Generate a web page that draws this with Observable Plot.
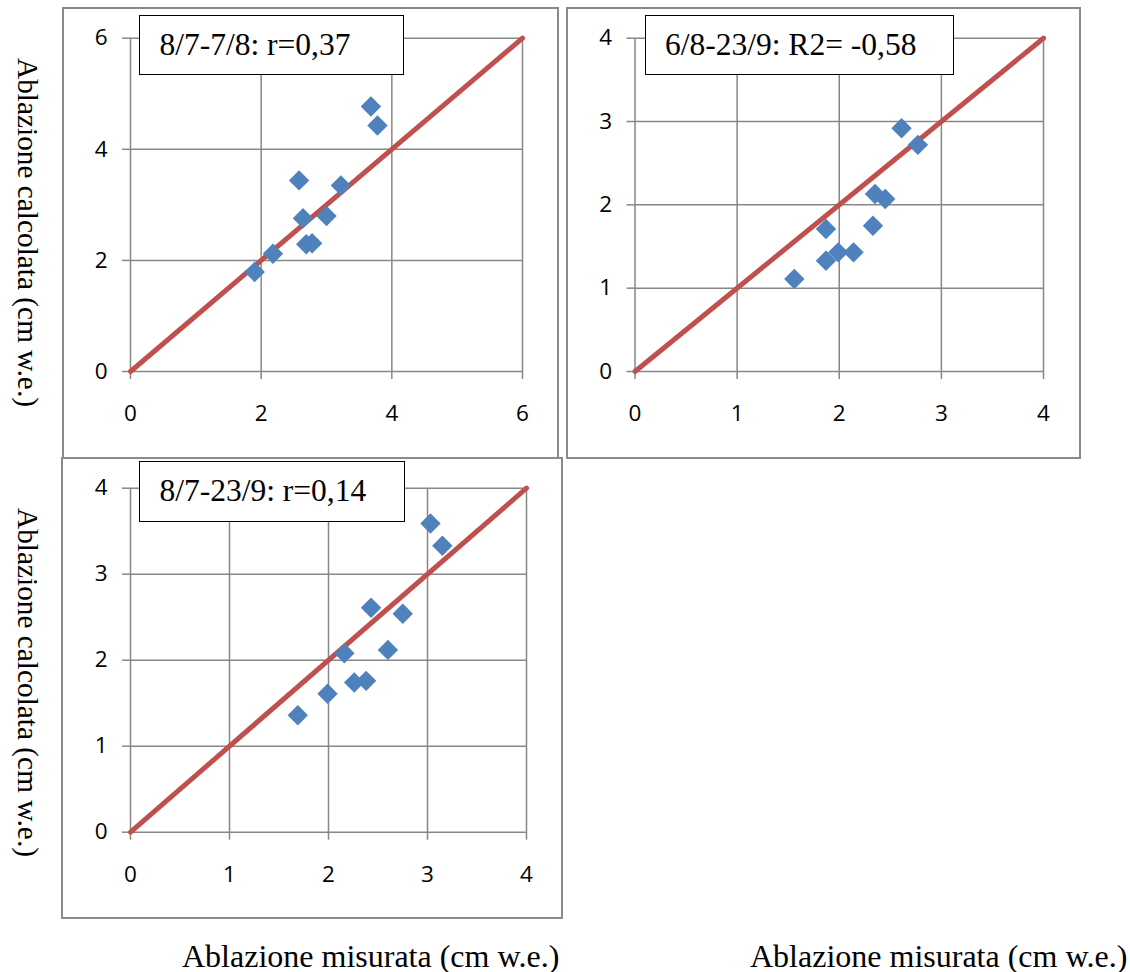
<!DOCTYPE html>
<html>
<head>
<meta charset="utf-8">
<script src="https://cdn.jsdelivr.net/npm/d3@7"></script>
<script src="https://cdn.jsdelivr.net/npm/@observablehq/plot@0.6"></script>
<style>
  body { margin: 0; background: #fff; }
  #chart { position: relative; width: 1130px; height: 972px; background: #fff; overflow: hidden; }
  .frame { position: absolute; box-sizing: border-box; border: 2px solid #8a8a8a; }
  .plot { position: absolute; }
  .note {
    position: absolute; box-sizing: border-box; border: 1.5px solid #000; background: #fff;
    font-family: "Liberation Serif", "Times New Roman", serif; font-size: 31.5px;
    white-space: nowrap; color: #000;
  }
  .titles { position: absolute; left: 0; top: 0; pointer-events: none; }
  .titles text { font-family: "Liberation Serif", "Times New Roman", serif; fill: #000; }
</style>
</head>
<body>
<div id="chart"></div>
<script>
// Ablazione misurata vs calcolata (cm w.e.) per tre periodi

const periodi = ["8/7-7/8: r=0,37", "6/8-23/9: R2= -0,58", "8/7-23/9: r=0,14"];

// 8/7 - 7/8
const misurata1  = [1.90, 2.18, 2.58, 2.64, 2.69, 2.78, 3.00, 3.22, 3.68, 3.78];
const calcolata1 = [1.79, 2.12, 3.44, 2.76, 2.29, 2.31, 2.80, 3.35, 4.77, 4.43];

// 6/8 - 23/9
const misurata2  = [1.56, 1.87, 1.87, 1.99, 2.14, 2.33, 2.35, 2.45, 2.61, 2.77];
const calcolata2 = [1.11, 1.71, 1.33, 1.43, 1.43, 1.75, 2.13, 2.07, 2.92, 2.72];

// 8/7 - 23/9
const misurata3  = [1.69, 1.99, 2.16, 2.26, 2.38, 2.43, 2.60, 2.75, 3.03, 3.15];
const calcolata3 = [1.36, 1.61, 2.08, 1.74, 1.76, 2.61, 2.12, 2.54, 3.59, 3.33];

// axis ticks and the 1:1 line end points
const ticks1 = [0, 2, 4, 6];
const ticks2 = [0, 1, 2, 3, 4];
const ticks3 = [0, 1, 2, 3, 4];
const bisettrice1 = [0, 6];
const bisettrice2 = [0, 4];
const bisettrice3 = [0, 4];

const titoloX = "Ablazione misurata (cm w.e.)";
const titoloY = "Ablazione calcolata (cm w.e.)";

// page layout: chart frame, plotting area and label box, as [left, top, right, bottom]
const layout = [
  { frame: [62, 7, 559, 459],     area: [130, 37.7, 522, 371],    note: [139, 15, 404, 75] },
  { frame: [565.5, 7, 1081, 459], area: [634, 37.7, 1042.5, 371], note: [644.5, 15, 953.5, 75] },
  { frame: [61, 457, 563, 919],   area: [130, 487.7, 526, 831.7], note: [139, 460.5, 404.5, 521.5] }
];

const series = [
  { xs: misurata1, ys: calcolata1, ticks: ticks1, diag: bisettrice1 },
  { xs: misurata2, ys: calcolata2, ticks: ticks2, diag: bisettrice2 },
  { xs: misurata3, ys: calcolata3, ticks: ticks3, diag: bisettrice3 }
];

const gridColor = "#878787";
const lineColor = "#C0504D";
const dotColor = "#4F81BD";
const tickFont = 22.5;

const chart = document.getElementById("chart");

series.forEach((s, k) => {
  const { frame, area, note } = layout[k];
  const [fl, ft, fr, fb] = frame;
  const [al, at, ar, ab] = area;
  const domain = d3.extent(s.ticks);

  const box = document.createElement("div");
  box.className = "frame";
  Object.assign(box.style, { left: fl + "px", top: ft + "px", width: (fr - fl) + "px", height: (fb - ft) + "px" });
  chart.appendChild(box);

  const svg = Plot.plot({
    width: fr - fl,
    height: fb - ft,
    marginLeft: al - fl,
    marginRight: fr - ar,
    marginTop: at - ft,
    marginBottom: fb - ab,
    x: { domain },
    y: { domain },
    style: { fontFamily: "'Open Sans', Lato, sans-serif", fontSize: tickFont + "px", color: "#000", background: "transparent", overflow: "visible" },
    marks: [
      Plot.gridX(s.ticks, { stroke: gridColor, strokeOpacity: 1, strokeWidth: 1.5 }),
      Plot.gridY(s.ticks, { stroke: gridColor, strokeOpacity: 1, strokeWidth: 1.5 }),
      Plot.axisX(s.ticks, { tickSize: 8, tickPadding: 26, fontSize: tickFont, stroke: gridColor, strokeWidth: 1.5, tickFormat: d => String(d), label: null }),
      Plot.axisY(s.ticks, { tickSize: 8, tickPadding: 15, fontSize: tickFont, stroke: gridColor, strokeWidth: 1.5, tickFormat: d => String(d), label: null }),
      Plot.line(s.diag, { x: d => d, y: d => d, stroke: lineColor, strokeWidth: 5 }),
      Plot.dot(d3.range(s.xs.length), { x: i => s.xs[i], y: i => s.ys[i], symbol: "diamond2", r: 9.2, fill: dotColor })
    ]
  });
  svg.classList.add("plot");
  Object.assign(svg.style, { left: fl + "px", top: ft + "px" });
  chart.appendChild(svg);

  const [nl, nt, nr, nb] = note;
  const lab = document.createElement("div");
  lab.className = "note";
  lab.textContent = periodi[k];
  Object.assign(lab.style, {
    left: nl + "px", top: nt + "px", width: (nr - nl) + "px", height: (nb - nt) + "px",
    lineHeight: (nb - nt - 3) + "px", paddingLeft: "19.5px"
  });
  chart.appendChild(lab);
});

// axis titles
const ns = "http://www.w3.org/2000/svg";
const titles = document.createElementNS(ns, "svg");
titles.setAttribute("class", "titles");
titles.setAttribute("width", 1130);
titles.setAttribute("height", 972);
function addText(txt, attrs) {
  const t = document.createElementNS(ns, "text");
  for (const [a, v] of Object.entries(attrs)) t.setAttribute(a, v);
  t.textContent = txt;
  titles.appendChild(t);
}
addText(titoloY, { transform: "translate(18,232.5) rotate(90)", "text-anchor": "middle", "font-size": 29, textLength: 349, lengthAdjust: "spacingAndGlyphs" });
addText(titoloY, { transform: "translate(18,682.5) rotate(90)", "text-anchor": "middle", "font-size": 29, textLength: 349, lengthAdjust: "spacingAndGlyphs" });
addText(titoloX, { x: 182, y: 966.5, "font-size": 32 });
addText(titoloX, { x: 750, y: 966.5, "font-size": 32 });
chart.appendChild(titles);
</script>
</body>
</html>
